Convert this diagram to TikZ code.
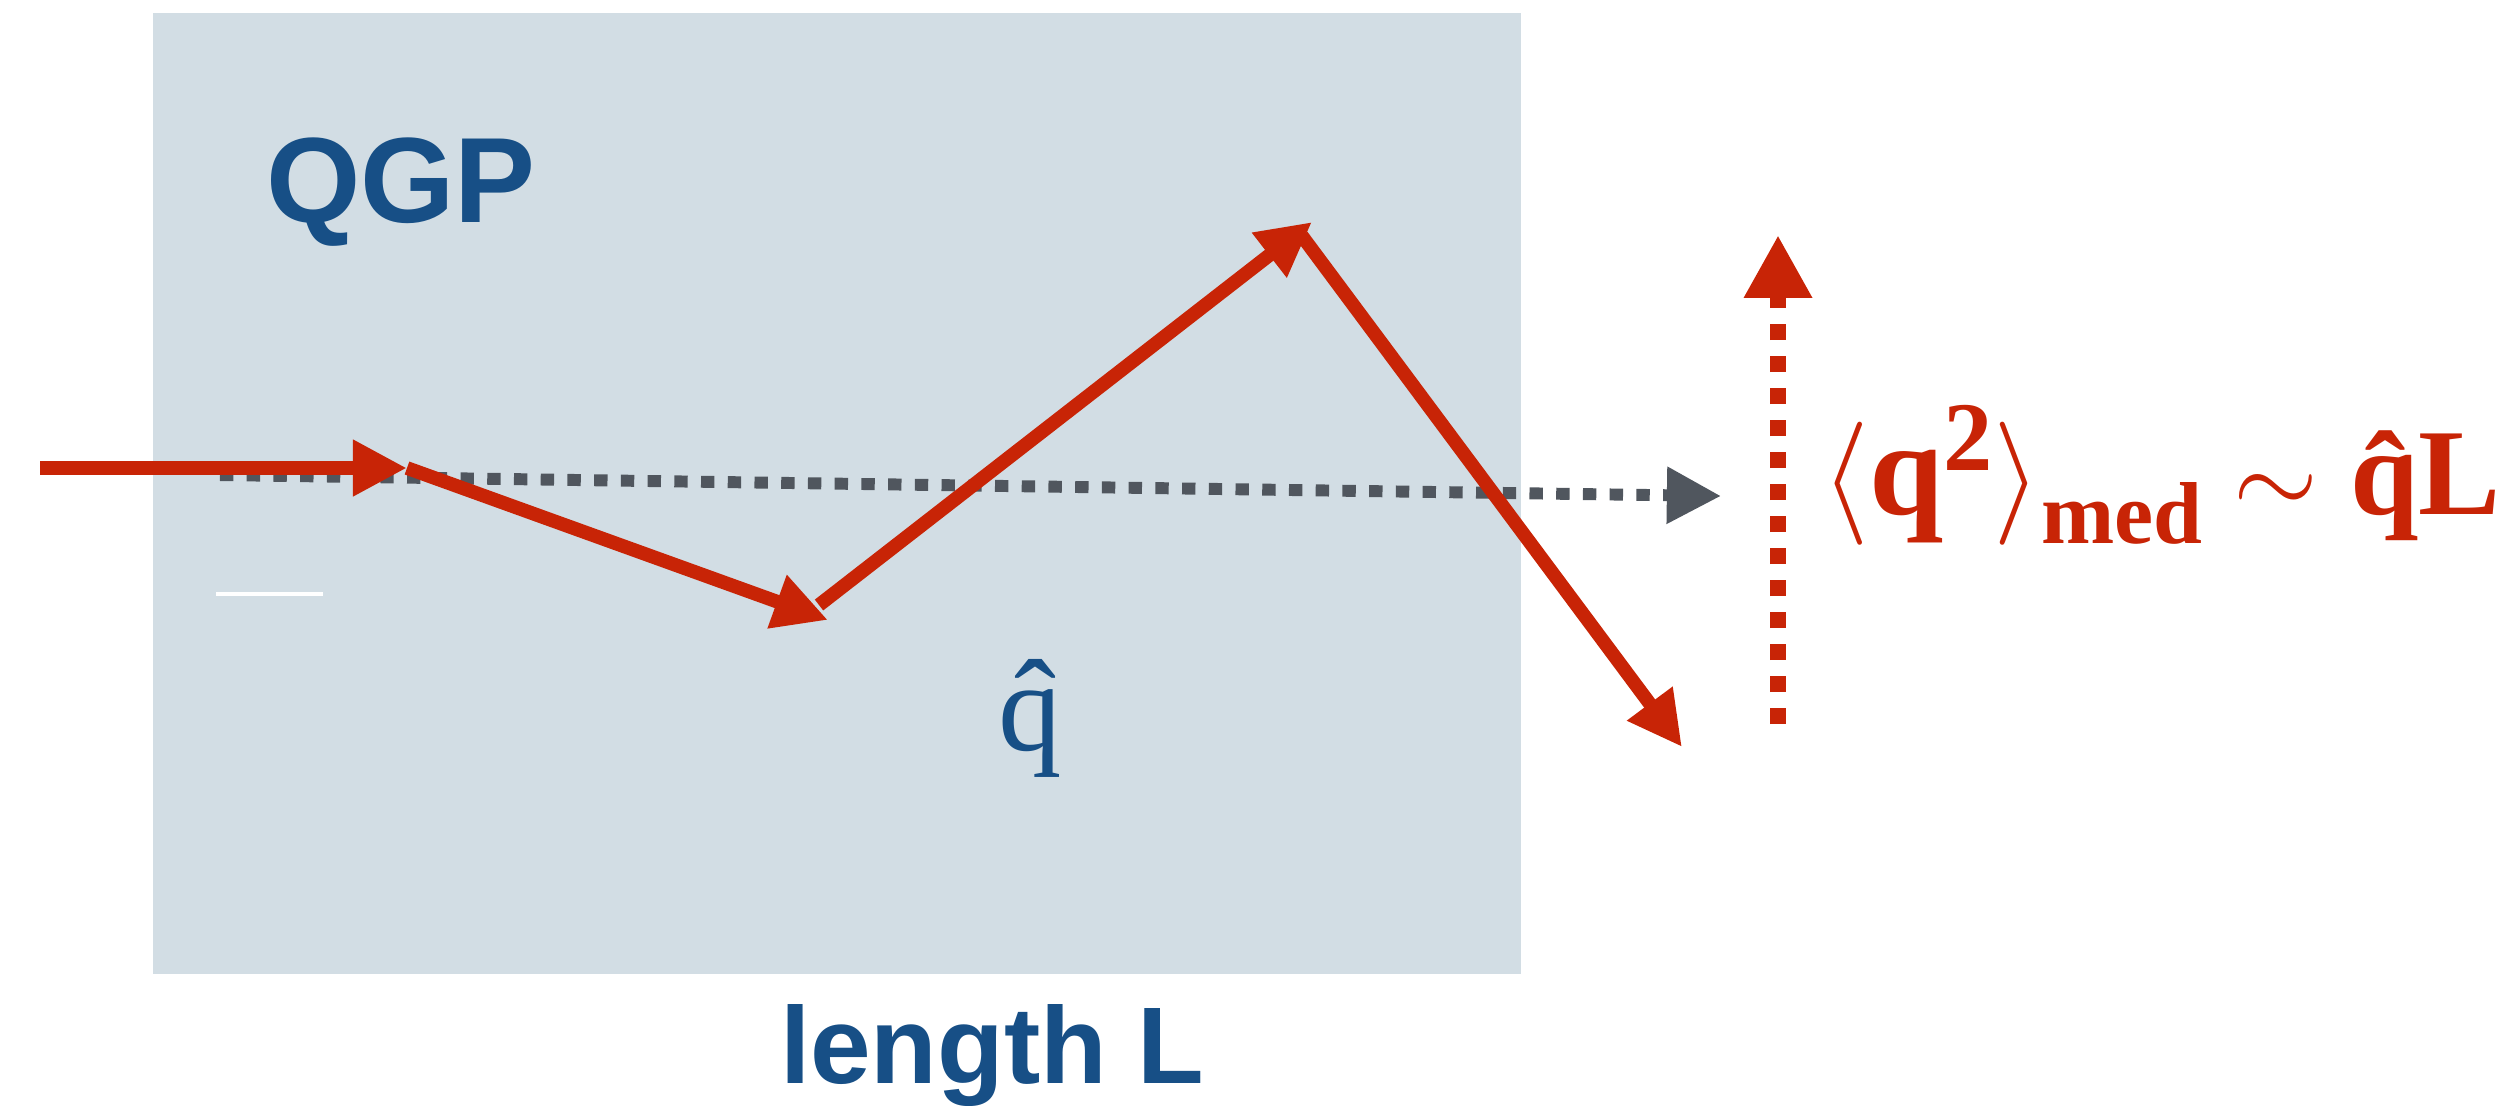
\RequirePackage{fix-cm}
\documentclass[tikz,border=0pt]{standalone}
\usepackage{fontspec}
\setmainfont{Liberation Serif}
\newfontfamily\labelfont{Liberation Sans}
\usetikzlibrary{positioning, arrows.meta, calc}
\definecolor{qgpBlue}{HTML}{174F86}
\definecolor{qgpFill}{HTML}{D2DDE4}
\definecolor{jetRed}{HTML}{C82406}
\definecolor{vacGray}{HTML}{50565E}

\begin{document}
\begin{tikzpicture}[
    x=0.01cm, y=-0.01cm,
    jet/.style={draw=jetRed, line width=3.9pt,
        -{Triangle[length=15.4pt, width=15.1pt]}},
    vacuum/.style={draw=vacGray, line width=3.4pt, dash pattern=on 3.8pt off 3.8pt,
        -{Triangle[length=15.4pt, width=15.4pt]}},
    broad/.style={draw=jetRed, line width=4.55pt, dash pattern=on 4.55pt off 4.55pt,
        -{Triangle[length=17.9pt, width=18.2pt]}},
    boldlabel/.style={inner sep=0pt, text=qgpBlue},
]

\useasboundingbox (0,0) rectangle (2504,1105);

% ============================================
% Medium
% ============================================
\fill[qgpFill] (153,13) rectangle (1521,974);
\draw[white, line width=1.3pt] (216,594) -- (323,594);

\node[boldlabel, anchor=base, font=\labelfont\bfseries\fontsize{34.5}{41}\selectfont] (qgp) at (401,222) {QGP};
\node[boldlabel, anchor=base, font=\fontsize{36}{43}\selectfont] (qhat) at (1030,750) {\^q};
\node[boldlabel, anchor=base, font=\labelfont\bfseries\fontsize{31}{37}\selectfont] (length) at (992,1083) {length L};

% ============================================
% Jet path
% ============================================
\coordinate (entry) at (40,468);
\coordinate (hit1) at (407,468);
\coordinate (hit2) at (828,620);
\coordinate (hit2out) at (819,605);
\coordinate (hit3) at (1312,222);
\coordinate (hit3out) at (1302,236);
\coordinate (exit) at (1682,747);

% vacuum direction
\coordinate (vacstart) at (220,475);
\coordinate (vacend) at (1721,496);
\draw[vacuum] (vacstart) -- (vacend);

\draw[jet] (entry) -- (hit1);
\draw[jet] (hit1) -- (hit2);
\draw[jet] (hit2out) -- (hit3);
\draw[jet] (hit3out) -- (exit);

% ============================================
% Broadening
% ============================================
\coordinate (broadlow) at (1778,724);
\coordinate (broadtop) at (1778,235);
\draw[broad] (broadlow) -- (broadtop);

\node[inner sep=0pt, anchor=base west, text=jetRed, font=\bfseries\fontsize{35}{42}\selectfont] (formula) at (1821,514)
    {$\langle${\fontsize{38}{44}\selectfont q}\raisebox{12.5pt}{\fontsize{28}{32}\selectfont 2}$\rangle$\raisebox{-8.5pt}{\fontsize{25}{30}\selectfont med}\hspace{9pt}{\fontsize{31}{36}\selectfont$\sim$}\hspace{9pt}\^qL};

\end{tikzpicture}
\end{document}
